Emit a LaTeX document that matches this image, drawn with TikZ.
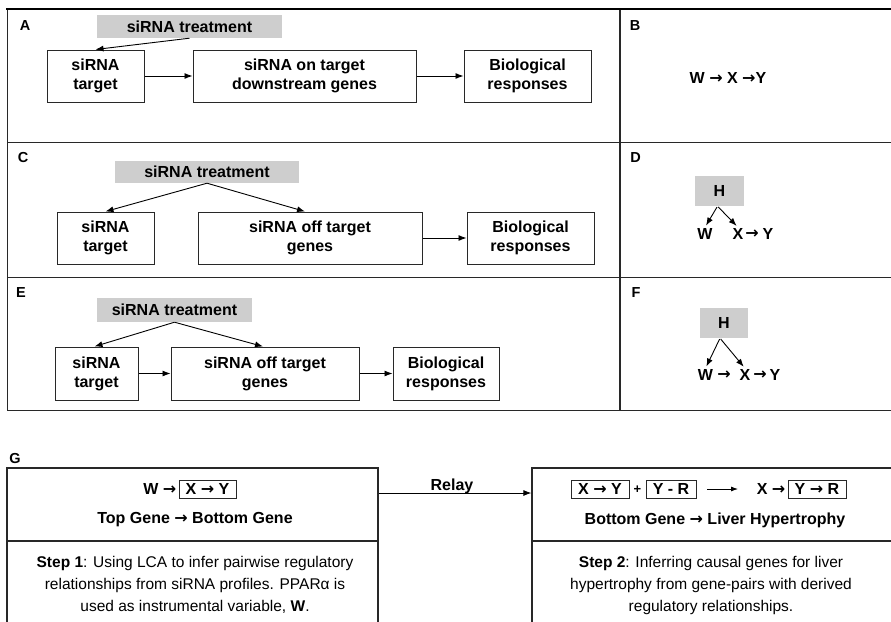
\documentclass[tikz,border=0pt]{standalone}
\usepackage{fontspec}
\setmainfont{Liberation Sans}
\newfontfamily\arrfont{DejaVu Sans}
\newcommand{\ra}{{\arrfont\bfseries →}}
\usetikzlibrary{arrows.meta,calc}
\definecolor{boxgray}{RGB}{206,206,206}
\definecolor{linegray}{RGB}{40,40,40}
\begin{document}
\begin{tikzpicture}[x=1pt,y=-1pt,
  bigfont/.style={font=\bfseries\fontsize{16}{19}\selectfont},
  letterfont/.style={font=\bfseries\fontsize{14.5}{16}\selectfont},
  treatbox/.style={fill=boxgray, bigfont, inner sep=0pt},
  genebox/.style={draw=linegray, line width=1pt, bigfont, align=center, inner sep=0pt},
  plain/.style={bigfont, inner sep=1pt},
  arr/.style={-{Latex[length=8pt,width=6pt]}, line width=0.9pt},
  frame/.style={draw=linegray, line width=1.4pt},
  stepfont/.style={font=\fontsize{15.5}{22}\selectfont, align=center},
  smallbox/.style={draw=linegray, line width=0.9pt, bigfont, inner sep=0pt}
]
\useasboundingbox (0,0) rectangle (891,621);
% ---------- frame of panels A-F ----------
\draw[frame] (7.5,142.5) -- (895,142.5);
\draw[frame] (7.5,277.5) -- (895,277.5);
\draw[frame] (620,9) -- (620,410.5);
\draw[frame] (7.5,9) -- (7.5,410.5);
\draw[frame] (7.5,410.5) -- (895,410.5);
\draw[line width=2.4pt] (6.3,9) -- (895,9);
% ---------- panel A ----------
\node[letterfont] (labA) at (25,26) {A};
\node[treatbox, minimum width=185, minimum height=23] (treatA) at (189.5,26.5) {siRNA treatment};
\node[genebox, minimum width=97, minimum height=52] (tgtA) at (95.5,76) {siRNA\\target};
\node[genebox, minimum width=223, minimum height=52] (midA) at (304.5,76) {siRNA on target\\downstream genes};
\node[genebox, minimum width=127, minimum height=52] (bioA) at (527.5,76) {Biological\\responses};
\draw[arr] (treatA.south) -- (tgtA.north);
\draw[arr] (tgtA) -- (midA);
\draw[arr] (midA) -- (bioA);
% ---------- panel B ----------
\node[letterfont] (labB) at (635,26) {B};
\node[plain] (chainB) at (728,78) {W \ra{} X \ra{}Y};
% ---------- panel C ----------
\node[letterfont] (labC) at (23,158) {C};
\node[treatbox, minimum width=184, minimum height=22] (treatC) at (207,172) {siRNA treatment};
\node[genebox, minimum width=97, minimum height=52] (tgtC) at (105.5,238) {siRNA\\target};
\node[genebox, minimum width=224, minimum height=52] (offC) at (310,238) {siRNA off target\\genes};
\node[genebox, minimum width=127, minimum height=52] (bioC) at (530.5,238) {Biological\\responses};
\draw[arr] (treatC.south) -- (tgtC.north);
\draw[arr] (treatC.south) -- ([xshift=-5pt]offC.north);
\draw[arr] (offC) -- (bioC);
% ---------- panel D ----------
\node[letterfont] (labD) at (635.5,157.5) {D};
\node[treatbox, minimum width=49, minimum height=30] (HD) at (719.5,191) {H};
\node[plain] (WD) at (705,234) {W};
\node[plain] (XD) at (738,234) {X};
\node[plain] (aD) at (752,234) {\ra};
\node[plain] (YD) at (768,234) {Y};
\draw[arr, shorten <=1pt, shorten >=2pt] ([xshift=-2pt]HD.south) -- (WD.north);
\draw[arr, shorten <=1pt, shorten >=2pt] ([xshift=-2pt]HD.south) -- (XD.north);
% ---------- panel E ----------
\node[letterfont] (labE) at (21,292.5) {E};
\node[treatbox, minimum width=155, minimum height=24] (treatE) at (174.5,310) {siRNA treatment};
\node[genebox, minimum width=83, minimum height=53] (tgtE) at (96.5,373.5) {siRNA\\target};
\node[genebox, minimum width=188, minimum height=53] (offE) at (265,373.5) {siRNA off target\\genes};
\node[genebox, minimum width=106, minimum height=53] (bioE) at (446,373.5) {Biological\\responses};
\draw[arr] (treatE.south) -- ([xshift=-2pt]tgtE.north);
\draw[arr] (treatE.south) -- ([xshift=-2pt]offE.north);
\draw[arr] (tgtE) -- (offE);
\draw[arr] (offE) -- (bioE);
% ---------- panel F ----------
\node[letterfont] (labF) at (636,293) {F};
\node[treatbox, minimum width=48, minimum height=30] (HF) at (724,323) {H};
\node[plain] (WF) at (705.5,375) {W};
\node[plain] (a1F) at (724,375) {\ra};
\node[plain] (XF) at (745,375) {X};
\node[plain] (a2F) at (760,375) {\ra};
\node[plain] (YF) at (775,375) {Y};
\draw[arr, shorten <=1pt, shorten >=2pt] ([xshift=-4pt]HF.south) -- (WF.north);
\draw[arr, shorten <=1pt, shorten >=2pt] ([xshift=-4pt]HF.south) -- (XF.north);
% ---------- panel G ----------
\node[letterfont] (labG) at (15,459) {G};
% left box
\node[draw=linegray, line width=1.2pt, minimum width=371, minimum height=73, inner sep=0pt] (G1top) at (192.5,504.5) {};
\draw[draw=linegray, line width=1.2pt] (7,541) -- (7,630) (378,541) -- (378,630);
\node[smallbox, minimum width=57, minimum height=18] (XYG) at (207.5,489) {X \ra{} Y};
\node[plain, anchor=east, inner sep=2pt] (WG) at (XYG.west) {W \ra};
\node[plain] (TopG) at (195,520) {Top Gene \ra{} Bottom Gene};
\node[stepfont] (step1) at (195,585) {\textbf{Step 1}: Using LCA to infer pairwise regulatory\\relationships from siRNA profiles. PPARα is\\used as instrumental variable, \textbf{W}.};
% right box
\node[draw=linegray, line width=1.2pt, minimum width=370, minimum height=73, inner sep=0pt] (G2top) at (717,504.5) {};
\draw[draw=linegray, line width=1.2pt] (532,541) -- (532,630);
\node[smallbox, minimum width=58, minimum height=18] (b1) at (600,489) {X \ra{} Y};
\node[plain] (plus) at (637.5,490) {\fontsize{13}{15}\selectfont +};
\node[smallbox, minimum width=50, minimum height=18] (b2) at (671,489) {Y - R};
\coordinate (la1) at (707,489);
\coordinate (la2) at (738,489);
\draw[-{Latex[length=7pt,width=5pt]}, line width=0.8pt] (la1) -- (la2);
\node[smallbox, minimum width=58, minimum height=18] (b3) at (817,489) {Y \ra{} R};
\node[plain, anchor=east, inner sep=2pt] (Xb3) at (b3.west) {X \ra};
\node[plain] (BotG) at (715,520) {Bottom Gene \ra{} Liver Hypertrophy};
\node[stepfont] (step2) at (711,585) {\textbf{Step 2}: Inferring causal genes for liver\\hypertrophy from gene-pairs with derived\\regulatory relationships.};
% relay
\draw[arr, line width=0.9pt] ([yshift=11.5pt]G1top.east) -- ([yshift=11.5pt]G2top.west);
\node[plain, anchor=base] (relay) at (452,490) {Relay};
\end{tikzpicture}
\end{document}
